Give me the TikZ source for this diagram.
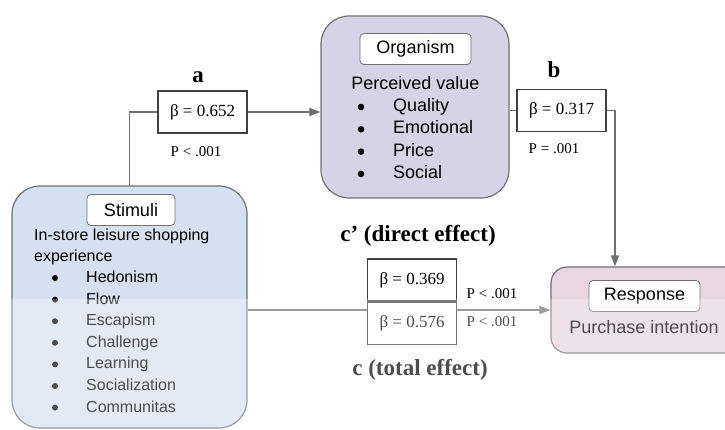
\documentclass[tikz,border=0pt]{standalone}
\usepackage{fontspec}
\setmainfont{Liberation Serif}
\newfontfamily\arialfont{Liberation Sans}
\usetikzlibrary{positioning,arrows.meta}

\definecolor{stimblue}{RGB}{213,225,241}
\definecolor{orglilac}{RGB}{215,211,231}
\definecolor{resppink}{RGB}{233,213,223}
\definecolor{linegray}{RGB}{112,112,112}

\tikzset{
  construct/.style={draw=linegray, line width=1.2pt, rounded corners=28pt, inner sep=0pt},
  tagbox/.style={draw=linegray, fill=white, rounded corners=4pt, line width=0.8pt,
    minimum height=31pt, inner sep=0pt, font=\arialfont\fontsize{18}{20}\selectfont},
  coefbox/.style={draw=black!75, fill=white, line width=1.2pt, minimum width=89pt,
    minimum height=42pt, inner sep=0pt, font=\fontsize{17}{19}\selectfont},
  wire/.style={draw=linegray, line width=1.8pt},
  flow/.style={wire, -{Triangle[length=11pt,width=8pt]}},
  itemtext/.style={anchor=west, inner sep=0pt, text height=12pt, text depth=3pt},
  ptext/.style={font=\fontsize{15}{17}\selectfont, inner sep=0pt},
  pathname/.style={font=\bfseries\fontsize{23}{26}\selectfont, inner sep=0pt}
}

\begin{document}
\begin{tikzpicture}[x=1pt,y=-1pt]
    \useasboundingbox (0,0) rectangle (725,430);
    \clip (0,0) rectangle (725,430);

    % The three construct boxes
    \node[construct, fill=stimblue, minimum width=235pt, minimum height=242pt] (stimuli) at (129.5,307) {};
    \node[construct, fill=orglilac, minimum width=188pt, minimum height=182pt] (organism) at (415,107) {};
    \node[construct, fill=resppink, minimum width=210pt, minimum height=86pt, rounded corners=16pt] (response) at (656,310) {};

    % Stimuli contents
    \node[tagbox, minimum width=88pt] (stimtag) at (131,210) {Stimuli};
    \node[itemtext, font=\arialfont\fontsize{16}{18}\selectfont] (stimline1) at (34,236) {In-store leisure shopping};
    \node[itemtext, font=\arialfont\fontsize{16}{18}\selectfont] (stimline2) at (34,257) {experience};
    \foreach \item [count=\i] in {Hedonism,Flow,Escapism,Challenge,Learning,Socialization,Communitas} {
        \fill (55,{278+21.6*(\i-1)}) circle (3pt);
        \node[itemtext, font=\arialfont\fontsize{16}{18}\selectfont] (stim-\i) at (86,{278+21.6*(\i-1)}) {\item};
    }

    % Organism contents
    \node[tagbox, minimum width=111pt] (orgtag) at (415.5,49) {Organism};
    \node[font=\arialfont\fontsize{18}{20}\selectfont, inner sep=0pt] (orgtitle) at (415.5,83) {Perceived value};
    \foreach \item [count=\i] in {Quality,Emotional,Price,Social} {
        \fill (361,{107+22.3*(\i-1)}) circle (3.3pt);
        \node[itemtext, font=\arialfont\fontsize{18}{20}\selectfont] (org-\i) at (393,{107+22.3*(\i-1)}) {\item};
    }

    % Response contents
    \node[tagbox, minimum width=111pt] (resptag) at (644.5,296) {Response};
    \node[font=\arialfont\fontsize{18}{20}\selectfont, inner sep=0pt] (resptitle) at (644,327) {Purchase intention};

    % Path a: Stimuli -> Organism
    \node[coefbox] (acoef) at (202.5,112) {β = 0.652};
    \draw[wire] (stimuli.north) |- (acoef.west);
    \draw[flow] (acoef.east) -- (organism.west |- acoef.east);
    \node[pathname] (aname) at (198,77) {a};
    \node[ptext] (ap) at (196,152) {P < .001};

    % Path b: Organism -> Response
    \coordinate (bdrop) at (615,0);
    \node[coefbox] (bcoef) at (561.5,110.5) {β = 0.317};
    \draw[wire] (organism.east |- bcoef.west) -- (bcoef.west);
    \draw[flow] (bcoef.east) -| (bdrop |- response.north);
    \node[pathname] (bname) at (554,70) {b};
    \node[ptext] (bp) at (554,149) {P = .001};

    % Path c and c': Stimuli -> Response
    \draw[flow] (stimuli.east |- response.west) -- (response.west);
    \node[coefbox] (cdirect) at (412,280) {β = 0.369};
    \node[coefbox, below=0pt of cdirect] (ctotal) {β = 0.576};
    \node[pathname] (cdname) at (418,236) {c’ (direct effect)};
    \node[pathname] (ctname) at (420,370) {c (total effect)};
    \node[ptext] (cdp) at (492,294) {P < .001};
    \node[ptext] (ctp) at (492,322) {P < .001};

    % faded lower part
    \fill[white, opacity=0.3] (0,299) rectangle (725,430);
\end{tikzpicture}
\end{document}
